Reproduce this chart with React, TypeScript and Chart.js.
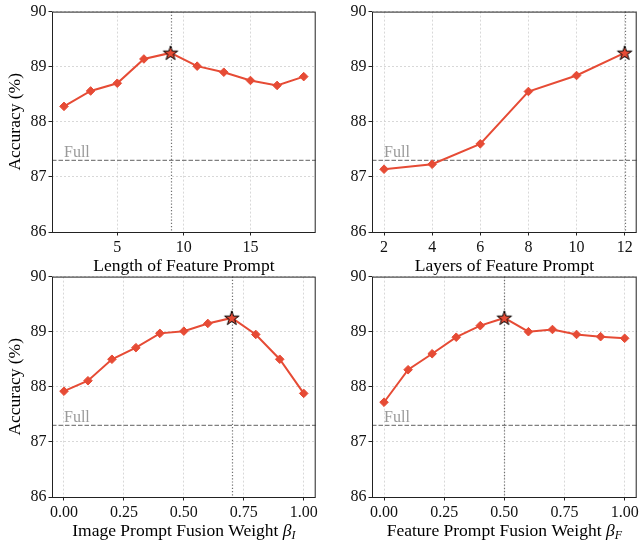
import { useEffect, useRef } from "react";
import { Chart, registerables } from "chart.js";

Chart.register(...registerables);

const COLOR = "#E64B35";
const FONT = "'Liberation Serif', 'Times New Roman', serif";
const FULL = 87.3;
const Y_TICKS = [86, 87, 88, 89, 90];

const lengthX = [1, 3, 5, 7, 9, 11, 13, 15, 17, 19];
const lengthAcc = [88.28, 88.56, 88.7, 89.14, 89.25, 89.01, 88.9, 88.75, 88.66, 88.82];
const lengthTicks = [5, 10, 15];

const layersX = [2, 4, 6, 8, 10, 12];
const layersAcc = [87.14, 87.23, 87.6, 88.55, 88.84, 89.25];
const layersTicks = [2, 4, 6, 8, 10, 12];

const weightX = [0, 0.1, 0.2, 0.3, 0.4, 0.5, 0.6, 0.7, 0.8, 0.9, 1.0];
const imageAcc = [87.92, 88.11, 88.5, 88.71, 88.97, 89.01, 89.15, 89.25, 88.95, 88.5, 87.88];
const featureAcc = [87.72, 88.31, 88.6, 88.9, 89.11, 89.25, 89.0, 89.04, 88.95, 88.91, 88.88];
const weightTicks = [0, 0.25, 0.5, 0.75, 1.0];

type Part = { text: string; italic?: boolean; sub?: boolean };

type PanelProps = {
  xs: number[];
  ys: number[];
  xMin: number;
  xMax: number;
  ticks: number[];
  fmt: (v: number) => string;
  title: Part[];
  yTitle: boolean;
  left: number;
  top: number;
  width: number;
  padRight: number;
};

function makeStar(): HTMLCanvasElement {
  const c = document.createElement("canvas");
  c.width = 18;
  c.height = 18;
  const ctx = c.getContext("2d")!;
  const cx = 9, cy = 9.5, R = 7.6, r = R * 0.382;
  ctx.beginPath();
  for (let i = 0; i < 10; i++) {
    const a = -Math.PI / 2 + (i * Math.PI) / 5;
    const rr = i % 2 === 0 ? R : r;
    ctx.lineTo(cx + rr * Math.cos(a), cy + rr * Math.sin(a));
  }
  ctx.closePath();
  ctx.fillStyle = COLOR;
  ctx.fill();
  ctx.lineWidth = 1;
  ctx.strokeStyle = "#000";
  ctx.stroke();
  return c;
}

function Panel(p: PanelProps) {
  const ref = useRef<HTMLCanvasElement>(null);
  useEffect(() => {
    const canvas = ref.current!;
    const star = makeStar();
    let best = 0;
    p.ys.forEach((v, i) => {
      if (v > p.ys[best]) best = i;
    });
    const decor = {
      id: "decor",
      beforeDatasetsDraw(chart: any) {
        const { ctx, chartArea: a, scales } = chart;
        const x = scales.x, y = scales.y;
        ctx.save();
        const fy = y.getPixelForValue(FULL);
        ctx.strokeStyle = "#808080";
        ctx.lineWidth = 1.2;
        ctx.setLineDash([4.5, 2]);
        ctx.beginPath();
        ctx.moveTo(a.left, fy);
        ctx.lineTo(a.right, fy);
        ctx.stroke();
        const bx = Math.round(x.getPixelForValue(p.xs[best])) + 0.5;
        ctx.strokeStyle = "#707070";
        ctx.lineWidth = 1.2;
        ctx.setLineDash([1.2, 2]);
        ctx.beginPath();
        ctx.moveTo(bx, a.top);
        ctx.lineTo(bx, a.bottom);
        ctx.stroke();
        ctx.setLineDash([]);
        ctx.fillStyle = "#9a9a9a";
        ctx.font = `16px ${FONT}`;
        ctx.textBaseline = "alphabetic";
        ctx.textAlign = "left";
        ctx.fillText("Full", x.getPixelForValue(p.xs[0]), fy - 3);
        ctx.restore();
      },
      afterDraw(chart: any) {
        const { ctx, chartArea: a } = chart;
        ctx.save();
        ctx.strokeStyle = "#222";
        ctx.lineWidth = 1;
        ctx.strokeRect(a.left + 0.5, a.top + 0.5, a.right - a.left - 1, a.bottom - a.top);
        // x title
        const fonts = p.title.map((t) =>
          t.sub ? `italic 12px ${FONT}` : t.italic ? `italic 17.5px ${FONT}` : `17.5px ${FONT}`
        );
        let total = 0;
        const widths = p.title.map((t, i) => {
          ctx.font = fonts[i];
          const w = ctx.measureText(t.text).width;
          total += w;
          return w;
        });
        let cx = (a.left + a.right) / 2 - total / 2;
        const base = a.bottom + 38.5;
        ctx.fillStyle = "#000";
        ctx.textBaseline = "alphabetic";
        ctx.textAlign = "left";
        p.title.forEach((t, i) => {
          ctx.font = fonts[i];
          ctx.fillText(t.text, cx, t.sub ? base + 3.5 : base);
          cx += widths[i];
        });
        ctx.restore();
      },
    };
    const chart = new Chart(canvas, {
      type: "line",
      data: {
        datasets: [
          {
            data: p.xs.map((x, i) => ({ x, y: p.ys[i] })),
            borderColor: COLOR,
            backgroundColor: COLOR,
            borderWidth: 2,
            tension: 0,
            pointStyle: p.xs.map((_, i) => (i === best ? star : "rectRot")) as any,
            pointRadius: 4.3,
            pointBorderWidth: 1,
            pointBackgroundColor: COLOR,
            pointBorderColor: COLOR,
          },
        ],
      },
      options: {
        animation: false,
        responsive: false,
        maintainAspectRatio: false,
        events: [],
        layout: { padding: { top: 11, right: p.padRight, left: 0, bottom: 0 } },
        plugins: { legend: { display: false }, tooltip: { enabled: false } },
        scales: {
          x: {
            type: "linear",
            min: p.xMin,
            max: p.xMax,
            afterBuildTicks: (s: any) => {
              s.ticks = p.ticks.map((v) => ({ value: v }));
            },
            afterFit: (s: any) => {
              s.height = 48;
            },
            ticks: {
              callback: (v: any) => p.fmt(Number(v)),
              color: "#111",
              font: { family: FONT, size: 16 },
              padding: 3,
              maxRotation: 0,
              autoSkip: false,
            },
            grid: {
              color: "#cfcfcf",
              lineWidth: 0.8,
              drawTicks: true,
              tickLength: 3.5,
              tickColor: "#222",
              tickWidth: 1,
            },
            border: { display: false, dash: [2, 2] },
          },
          y: {
            type: "linear",
            min: 86,
            max: 90,
            afterBuildTicks: (s: any) => {
              s.ticks = Y_TICKS.map((v) => ({ value: v }));
            },
            afterFit: (s: any) => {
              s.width = 52;
            },
            ticks: {
              color: "#111",
              font: { family: FONT, size: 16 },
              padding: 2,
              autoSkip: false,
            },
            grid: {
              color: "#cfcfcf",
              lineWidth: 0.8,
              drawTicks: true,
              tickLength: 3.5,
              tickColor: "#222",
              tickWidth: 1,
            },
            border: { display: false, dash: [2, 2] },
            title: {
              display: p.yTitle,
              text: "Accuracy (%)",
              color: "#000",
              font: { family: FONT, size: 17.5 },
              padding: { top: 5, bottom: 0 },
            },
          },
        },
      },
      plugins: [decor],
    });
    return () => chart.destroy();
  }, []);
  return (
    <canvas
      ref={ref}
      width={p.width}
      height={280}
      style={{ position: "absolute", left: p.left, top: p.top, width: p.width, height: 280 }}
    />
  );
}

const intFmt = (v: number) => String(v);
const decFmt = (v: number) => v.toFixed(2);

export default function App() {
  return (
    <div style={{ position: "absolute", left: 0, top: 0, width: 642, height: 546, background: "#fff" }}>
      <Panel
        xs={lengthX}
        ys={lengthAcc}
        xMin={0.1}
        xMax={19.9}
        ticks={lengthTicks}
        fmt={intFmt}
        title={[{ text: "Length of Feature Prompt" }]}
        yTitle={true}
        left={0}
        top={0}
        width={321}
        padRight={1}
      />
      <Panel
        xs={layersX}
        ys={layersAcc}
        xMin={1.5}
        xMax={12.5}
        ticks={layersTicks}
        fmt={intFmt}
        title={[{ text: "Layers of Feature Prompt" }]}
        yTitle={false}
        left={320}
        top={0}
        width={322}
        padRight={2}
      />
      <Panel
        xs={weightX}
        ys={imageAcc}
        xMin={-0.05}
        xMax={1.05}
        ticks={weightTicks}
        fmt={decFmt}
        title={[
          { text: "Image Prompt Fusion Weight " },
          { text: "β", italic: true },
          { text: "I", italic: true, sub: true },
        ]}
        yTitle={true}
        left={0}
        top={265}
        width={321}
        padRight={1}
      />
      <Panel
        xs={weightX}
        ys={featureAcc}
        xMin={-0.05}
        xMax={1.05}
        ticks={weightTicks}
        fmt={decFmt}
        title={[
          { text: "Feature Prompt Fusion Weight " },
          { text: "β", italic: true },
          { text: "F", italic: true, sub: true },
        ]}
        yTitle={false}
        left={320}
        top={265}
        width={322}
        padRight={2}
      />
    </div>
  );
}
